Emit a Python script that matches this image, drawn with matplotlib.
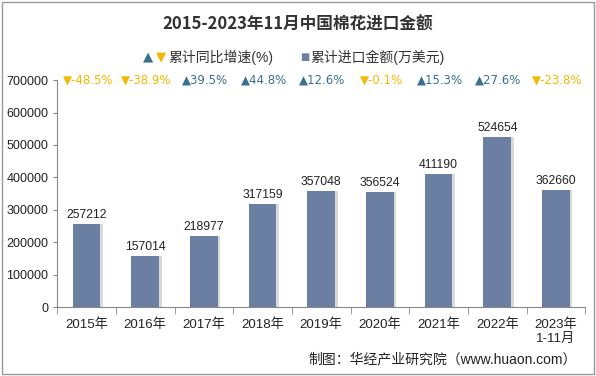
import numpy as np
import matplotlib.pyplot as plt

plt.rcParams['font.family'] = ['Liberation Sans', 'Noto Sans CJK SC', 'DejaVu Sans']

years = ['2015年', '2016年', '2017年', '2018年', '2019年', '2020年', '2021年', '2022年', '2023年\n1-11月']
amount = [257212, 157014, 218977, 317159, 357048, 356524, 411190, 524654, 362660]
growth = [-48.5, -38.9, 39.5, 44.8, 12.6, -0.1, 15.3, 27.6, -23.8]

bar_color = '#6b7fa3'
up_color = '#3a6f8f'
down_color = '#f4b800'

fig = plt.figure(figsize=(5.96, 3.76), dpi=100)
ax = fig.add_axes([0.096, 0.183, 0.886, 0.604])

x = np.arange(len(years))
# soft shadow to the right of each bar
ax.bar(x + 0.045, amount, width=0.47, color='#d9d9d9', zorder=1)
ax.bar(x, amount, width=0.47, color=bar_color, zorder=2)
for xi, v in zip(x, amount):
    ax.text(xi, v + 9000, str(v), ha='center', va='bottom', fontsize=8.8, color='#222222')

for xi, g in zip(x, growth):
    c = up_color if g >= 0 else down_color
    mark = '▲' if g >= 0 else '▼'
    ax.text(xi + 0.02, 700000, f'{mark}{g}%', ha='center', va='center', fontsize=8.5, color=c,
            family=['DejaVu Sans'])

ax.set_xlim(-0.5, len(years) - 0.5)
ax.set_ylim(0, 700000)
ax.set_yticks(np.arange(0, 700001, 100000))
ax.set_xticks(x)
ax.set_xticklabels(years, fontsize=9.5, linespacing=1.25)
ax.set_xticks(np.arange(-0.5, len(years), 1), minor=True)
ax.tick_params(axis='x', which='major', length=0, pad=8)
ax.tick_params(axis='x', which='minor', length=5, color='#888888')
ax.tick_params(axis='y', labelsize=9, length=3, color='#888888', labelcolor='#222222')
ax.tick_params(axis='x', labelcolor='#222222')
for s in ['top', 'right']:
    ax.spines[s].set_visible(False)
ax.spines['left'].set_color('#888888')
ax.spines['bottom'].set_color('#888888')

fig.text(0.5, 0.935, '2015-2023年11月中国棉花进口金额', ha='center', va='center',
         fontsize=12, fontweight='bold', color='#333333', family=['Noto Sans CJK SC'])

# legend
fig.text(0.240, 0.848, '▲', color=up_color, fontsize=9.5, ha='left', va='center', family=['DejaVu Sans'])
fig.text(0.261, 0.848, '▼', color=down_color, fontsize=9.5, ha='left', va='center', family=['DejaVu Sans'])
fig.text(0.282, 0.848, '累计同比增速(%)', color='#333333', fontsize=10, ha='left', va='center')
fig.text(0.503, 0.848, '■', color=bar_color, fontsize=7, ha='left', va='center', family=['DejaVu Sans'])
fig.text(0.520, 0.848, '累计进口金额(万美元)', color='#333333', fontsize=10, ha='left', va='center')

fig.text(0.968, 0.045, '制图：华经产业研究院（www.huaon.com）', ha='right', va='center',
         fontsize=10, color='#222222')

# outer border
fig.patches.append(plt.Rectangle((0.003, 0.005), 0.994, 0.99, transform=fig.transFigure,
                                 fill=False, edgecolor='#999999', linewidth=1))

fig.savefig('out.png', dpi=100)
